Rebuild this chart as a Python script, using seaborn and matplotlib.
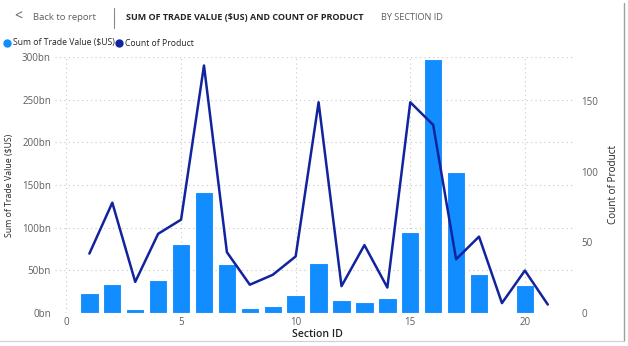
import matplotlib
matplotlib.use("Agg")
import matplotlib.pyplot as plt
import seaborn as sns
import pandas as pd
from matplotlib.ticker import FuncFormatter, MultipleLocator

section_id = list(range(1, 22))
trade_value_bn = [23.4, 34, 4.2, 39, 81, 142, 58, 6.2, 8.6, 20.6, 58.6,
                  14.8, 12.9, 18, 95.3, 297.8, 164.8, 46, 0.5, 33.2, 1.2]
count_product = [42, 78, 22, 56, 66, 175, 43, 20, 27, 40, 149,
                 19, 48, 18, 149, 133, 38, 54, 7, 30, 6]

title_main = "SUM OF TRADE VALUE ($US) AND COUNT OF PRODUCT"
title_sub = "BY SECTION ID"
back_text = "Back to report"
bar_label = "Sum of Trade Value ($US)"
line_label = "Count of Product"
x_label = "Section ID"

BAR_C = "#118DFF"
LINE_C = "#12239E"
TICK_C = "#605E5C"
GRID_C = "#C8C6C4"

sns.set_theme(style="white")
plt.rcParams['font.family'] = ['Open Sans', 'DejaVu Sans']

df = pd.DataFrame({"section": section_id,
                   "trade": [v * 1e9 for v in trade_value_bn],
                   "count": count_product})

fig = plt.figure(figsize=(6.28, 3.46), dpi=100)
ax = fig.add_axes([55/628, 1-313/346, (573-55)/628, (313-57)/346])

sns.barplot(data=df, x="section", y="trade", native_scale=True, width=0.8,
            color=BAR_C, saturation=1, edgecolor="white", linewidth=0.8, ax=ax, zorder=2)
ax.set_xlim(-0.5, 22.1)
ax.set_ylim(0, 300e9)
ax.yaxis.set_major_locator(MultipleLocator(50e9))
ax.xaxis.set_major_locator(MultipleLocator(5))
ax.yaxis.set_major_formatter(FuncFormatter(lambda v, p: f"{v/1e9:.0f}bn"))
ax.grid(True, axis="both", color=GRID_C, linestyle=(0, (1, 3)), linewidth=0.8, zorder=0)
ax.set_axisbelow(True)
for s in ax.spines.values():
    s.set_visible(False)
ax.tick_params(axis="both", length=0, labelsize=7, labelcolor=TICK_C, pad=3)
ax.set_xlabel(x_label, fontsize=7.6, color="#252423", weight="semibold", va="center")
ax.xaxis.set_label_coords((317-55)/518, -(334.5-313)/256)
ax.set_ylabel(bar_label, fontsize=6.3, color="#252423", va="center")
ax.yaxis.set_label_coords((10-55)/518, 0.5)

ax2 = ax.twinx()
sns.lineplot(data=df, x="section", y="count", color=LINE_C, linewidth=1.8, ax=ax2, zorder=3)
ax2.set_ylim(0, 181)
ax2.yaxis.set_major_locator(MultipleLocator(50))
for s in ax2.spines.values():
    s.set_visible(False)
ax2.tick_params(axis="y", length=0, labelsize=7, labelcolor=TICK_C, pad=6)
ax2.set_ylabel(line_label, fontsize=7.2, color="#252423", va="center")
ax2.yaxis.set_label_coords((613-55)/518, 0.5)
ax2.set_xlim(-0.5, 22.1)
ax2.grid(False)

# header
fig.text(14/628, 1-17/346, "<", fontsize=10, color="#605E5C", va="center")
fig.text(33/628, 1-17/346, back_text, fontsize=6.8, color="#605E5C", va="center")
fig.add_artist(plt.Line2D([114/628, 114/628], [1-8/346, 1-28/346], color="#8A8886", linewidth=0.8))
fig.text(126/628, 1-17/346, title_main, fontsize=6.5, color="#252423", weight="bold", va="center")
fig.text(381/628, 1-17/346, title_sub, fontsize=6.6, color="#605E5C", va="center")
# legend
fig.add_artist(plt.Line2D([7/628], [1-43/346], marker="o", markersize=5, color=BAR_C, linestyle="none"))
fig.text(13/628, 1-43/346, bar_label, fontsize=6.2, color="#252423", va="center")
fig.add_artist(plt.Line2D([119/628], [1-43/346], marker="o", markersize=5, color=LINE_C, linestyle="none"))
fig.text(125/628, 1-43/346, line_label, fontsize=6.2, color="#252423", va="center")
# borders
fig.add_artist(plt.Line2D([624/628, 624/628], [1-341/346, 0.99], color="#A19F9D", linewidth=1))
fig.add_artist(plt.Line2D([0, 624/628], [1-341/346, 1-341/346], color="#D2D0CE", linewidth=0.8))

fig.savefig("out.png", dpi=100)
